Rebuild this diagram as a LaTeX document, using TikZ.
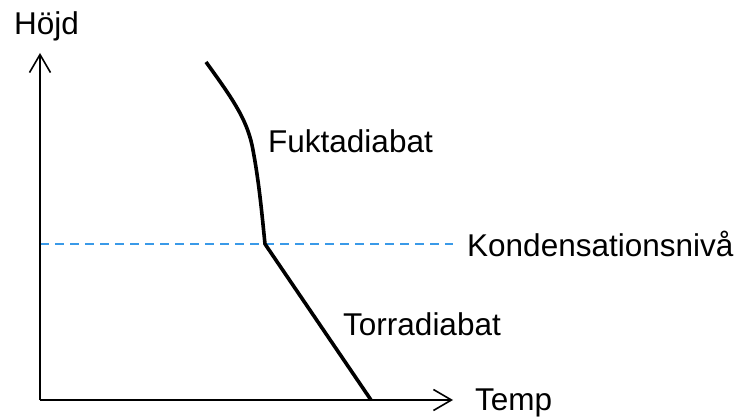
\documentclass[tikz,border=0pt]{standalone}
\usepackage{fontspec}
\setmainfont{Liberation Sans}
\usetikzlibrary{arrows.meta,positioning,calc}
\definecolor{levelBlue}{HTML}{3A9AE8}
\definecolor{ink}{HTML}{000000}

\begin{document}
\begin{tikzpicture}[
    x=1pt, y=-1pt,
    lbl/.style={anchor=base west, inner sep=0pt, font=\fontsize{31.5}{36}\selectfont\color{ink}},
    axis/.style={draw=ink, line width=1.6pt, -{Straight Barb[length=18pt, width=21pt, line width=1.6pt]}},
    adiabat/.style={draw=ink, line width=3.6pt},
    level/.style={draw=levelBlue, line width=1.4pt, dash pattern=on 9pt off 6pt}
  ]
    \useasboundingbox (0,0) rectangle (740,417);

    % Points
    \coordinate (origin) at (40,400);
    \coordinate (ytop) at (40,53);
    \coordinate (xend) at (453,400);
    \coordinate (top) at (206,62);
    \coordinate (kink) at (265,244);
    \coordinate (foot) at (371,400);
    \coordinate (lvlA) at (40,244);
    \coordinate (lvlB) at (453,244);

    % Labels
    \node[lbl] (hojd) at (14,35) {Höjd};
    \node[lbl] (fukt) at (268,153) {Fuktadiabat};
    \node[lbl] (kond) at (467,257) {Kondensationsnivå};
    \node[lbl] (torr) at (343,335) {Torradiabat};
    \node[lbl] (temp) at (475,410) {Temp};

    % Edges
    \draw[level] (lvlA) -- (lvlB);
    \draw[axis] (origin) -- (ytop);
    \draw[axis] (origin) -- (xend);
    \draw[adiabat, line join=round] (top) .. controls (232,98) and (246,118) .. (252,145)
      .. controls (259,180) and (262,215) .. (kink) -- (foot);
  \end{tikzpicture}
\end{document}
